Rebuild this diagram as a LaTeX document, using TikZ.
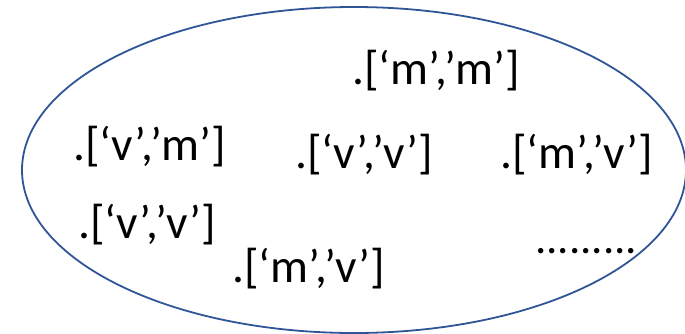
\documentclass[tikz,border=0pt]{standalone}
\usepackage{fontspec}
\setmainfont{Carlito}
\usetikzlibrary{shapes.geometric}
\definecolor{setblue}{HTML}{2F5597}

\begin{document}
\begin{tikzpicture}[
 x=1pt,y=-1pt,
 bag/.style={ellipse,draw=setblue,line width=1.8pt,inner sep=0pt,minimum width=664pt,minimum height=326pt},
 tuple/.style={anchor=base west,inner sep=0pt,font=\fontsize{47.5}{52}\selectfont}
]
\useasboundingbox (0,0) rectangle (685,333);
\node[bag] (set) at (354,170) {};
\node[tuple] (mm) at (352,84) {.[‘m’,’m’]};
\node[tuple] (vm) at (73,160) {.[‘v’,’m’]};
\node[tuple] (vv) at (295,168) {.[‘v’,’v’]};
\node[tuple] (mv) at (500,168) {.[‘m’,’v’]};
\node[tuple] (vvlow) at (78,238) {.[‘v’,’v’]};
\node[tuple] (mvlow) at (232,282) {.[‘m’,’v’]};
\node[tuple,font=\fontsize{45}{50}\selectfont] (more) at (535,253) {.........};
\end{tikzpicture}
\end{document}
